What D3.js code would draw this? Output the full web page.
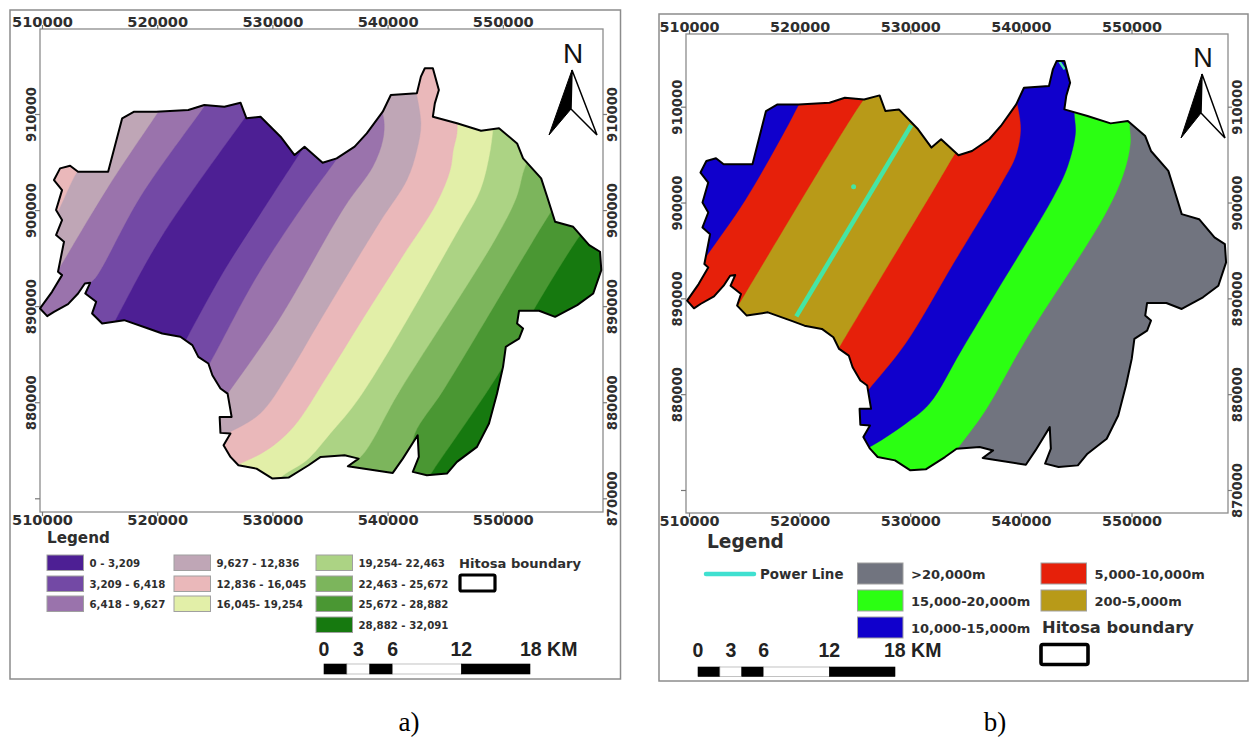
<!doctype html>
<html>
<head>
<meta charset="utf-8"/>
<title>Hitosa maps</title>
<script src="https://d3js.org/d3.v7.min.js"></script>
<style>
body { margin: 0; background: #fff; }
svg { display: block; }
</style>
</head>
<body>
<svg id="svg1" width="1250" height="738"></svg>
<script>
const boundary = [
    [509.83,889.76],[510.45,888.96],[511.04,889.41],[512.26,890.21],[513.13,891.32],[513.72,892.36],
    [514.18,892.43],[513.76,891.32],[514.70,890.45],[514.35,889.24],[515.22,888.20],[517.13,888.54],
    [519.22,887.68],[520.44,887.15],[522.01,886.81],[523.05,885.94],[523.57,884.72],[524.44,884.03],
    [524.79,882.81],[525.49,881.43],[526.11,880.90],[526.46,878.47],[525.42,878.47],[525.49,876.81],
    [526.36,876.74],[525.76,875.52],[526.36,874.31],[527.05,873.44],[528.62,873.09],[530.01,872.05],
    [531.40,872.16],[533.14,873.44],[534.19,874.31],[536.27,874.48],[537.49,874.13],[536.55,873.34],
    [540.45,872.64],[541.32,874.13],[542.61,876.56],[542.71,874.31],[542.19,872.75],[543.41,872.40],
    [545.15,872.57],[546.02,873.79],[547.76,875.35],[548.80,877.78],[549.50,880.90],[550.02,883.68],
    [550.26,885.77],[551.41,886.63],[551.76,887.68],[551.24,888.20],[551.41,889.52],[553.15,889.52],
    [554.54,888.89],[556.46,890.11],[557.85,891.32],[558.55,893.75],[558.44,895.66],[557.50,896.36],
    [556.11,898.26],[554.54,898.79],[553.85,901.39],[553.33,903.30],[551.76,905.38],[551.24,906.94],
    [549.67,908.51],[548.11,908.26],[546.02,909.03],[543.93,909.72],[544.10,911.11],[544.45,912.50],
    [543.93,914.76],[543.23,914.76],[542.89,913.89],[542.54,912.15],[540.28,911.98],[539.58,910.24],
    [538.19,907.99],[537.14,906.60],[535.58,905.38],[534.36,904.93],[532.79,906.60],[531.92,905.73],
    [530.71,907.64],[528.97,909.72],[527.75,909.55],[527.23,911.18],[525.83,910.76],[524.09,910.94],
    [522.70,910.42],[519.92,910.24],[518.00,910.24],[516.96,909.55],[515.74,903.99],[513.13,903.99],
    [512.44,904.62],[511.57,904.34],[511.04,903.13],[511.74,902.08],[511.22,900.00],[511.74,898.96],
    [511.22,897.40],[511.91,896.70],[511.39,893.58],[511.74,893.23],[510.87,891.49]
];

// class limits between the stripes, west to east (panel a)
const breaksA = [
    [[513.83,905.21],[512.96,903.82],[511.50,900.17],[510.52,897.92]],
    [[520.96,911.81],[520.09,910.24],[515.74,902.43],[511.39,893.75],[510.52,892.02]],
    [[524.79,912.15],[524.09,910.83],[518.53,901.39],[514.70,893.06],[514.07,892.29],[513.45,891.32],[513.45,887.15]],
    [[528.62,911.28],[527.57,909.55],[520.27,897.05],[516.44,888.72],[515.57,886.81]],
    [[533.14,907.29],[532.27,905.73],[528.97,899.65],[525.83,893.75],[522.70,886.98],[522.01,885.42]],
    [[536.27,906.60],[535.51,905.21],[532.79,900.70],[528.62,893.06],[524.62,884.20],[523.92,882.81]],
    [[539.23,911.46],[539.68,909.38],[539.58,907.29],[538.71,904.51],[536.27,900.35],[530.53,888.54],[526.32,881.25],[525.14,879.34]],
    [[542.36,912.85],[542.89,909.03],[542.54,906.25],[541.67,903.13],[539.34,898.79],[534.15,888.54],[531.23,882.64],[528.93,878.82],[526.04,876.74],[524.79,876.04]],
    [[546.02,910.07],[546.02,907.99],[545.70,906.25],[545.43,904.17],[544.24,900.70],[541.08,894.79],[537.77,888.54],[534.71,882.64],[531.82,877.43],[529.49,875.00],[526.88,873.44],[525.49,872.75]],
    [[549.22,909.38],[548.91,906.25],[548.04,902.08],[546.30,898.26],[537.60,880.56],[535.02,876.74],[532.97,873.96],[530.95,872.40],[530.01,871.18]],
    [[552.98,906.60],[551.93,904.51],[551.20,901.39],[549.46,897.22],[541.08,881.25],[537.49,874.13],[535.93,873.44],[535.93,870.84]],
    [[554.72,900.70],[553.81,899.13],[551.79,895.14],[544.83,881.25],[542.36,876.74],[542.02,874.31],[541.67,871.18]],
    [[557.50,898.61],[556.42,896.88],[552.66,889.58],[549.64,882.99],[543.96,872.92],[543.23,871.53]]
];

// class limits between the stripes, west to east (panel b)
const breaksB = [
    [[520.50,911.39],[519.85,910.07],[518.87,907.91],[515.07,900.24],[511.63,894.50],[510.54,892.68]],
    [[526.47,911.92],[525.64,910.52],[524.84,909.13],[521.58,903.03],[515.07,890.49],[513.98,888.40]],
    [[534.62,906.17],[533.89,904.84],[532.08,901.29],[528.10,893.63],[523.76,885.26],[523.03,883.87]],
    [[539.50,911.05],[539.68,910.17],[539.97,907.56],[539.50,904.77],[538.24,901.99],[533.89,893.63],[529.55,885.26],[526.29,880.56],[525.57,879.51]],
    [[544.82,910.35],[544.82,909.30],[544.93,907.21],[544.21,903.73],[542.94,900.59],[537.87,890.84],[534.62,884.57],[531.72,878.99],[529.55,876.90],[526.29,874.46],[525.20,873.94]],
    [[549.82,909.13],[549.82,908.08],[549.89,906.17],[549.28,903.03],[547.65,898.85],[540.41,885.61],[536.79,878.30],[534.25,874.29],[533.17,872.55]]
];

const powerLine = [[530.09,908.08],[519.70,888.12]];
const powerLineEnd = [[543.49,914.70],[543.96,913.90]];
const powerPoint = [524.88,901.64];

const eastTicks = [510000, 520000, 530000, 540000, 550000];
const northTicks = [910000, 900000, 890000, 880000, 870000];
const scaleKm = [0, 2, 4, 6, 12, 18];
const scaleLabels = [0, 3, 6, 12];

const labelsA = ['0 - 3,209', '3,209 - 6,418', '6,418 - 9,627', '9,627 - 12,836', '12,836 - 16,045',
    '16,045- 19,254', '19,254- 22,463', '22,463 - 25,672', '25,672 - 28,882', '28,882 - 32,091'];
const coloursA = ['#4d1f94', '#7349a5', '#9a73ac', '#bfa6b6', '#eab8ba',
    '#e2efa8', '#acd384', '#7cb55c', '#4a9733', '#16790f'];
const stripesA = [4, 3, 2, 1, 0, 1, 2, 3, 4, 5, 6, 7, 8, 9];   // class of each stripe, west to east

const labelsB = ['>20,000m', '15,000-20,000m', '10,000-15,000m', '5,000-10,000m', '200-5,000m'];
const coloursB = ['#71747f', '#2bff12', '#1000cc', '#e6200a', '#b89a18'];
const stripesB = [2, 3, 4, 3, 2, 1, 0];

const tick_font = 'DejaVu Sans';
const text_color = '#2e2e2e';
const svg = d3.select('#svg1');

// fills one stripe colour per break: everything west of the break, painted east to west
function drawStripes(g, x, y, breaks, stripes, colours, clipId) {
    const line = d3.line().x(d => x(d[0] * 1000)).y(d => y(d[1] * 1000)).curve(d3.curveCatmullRom);
    const outline = d3.line().x(d => x(d[0] * 1000)).y(d => y(d[1] * 1000)).curve(d3.curveLinearClosed);

    g.append('clipPath').attr('id', clipId).append('path').attr('d', outline(boundary));
    const clipped = g.append('g').attr('clip-path', 'url(#' + clipId + ')');

    clipped.append('path').attr('d', outline(boundary))
        .style('fill', colours[stripes[stripes.length - 1]]);

    for (let i = breaks.length - 1; i >= 0; i--) {
        const b = breaks[i];
        const topX = x(b[0][0] * 1000);
        const d = line(b)
            + 'L' + x(500000) + ',' + y(860000)
            + 'L' + x(500000) + ',' + y(925000)
            + 'L' + topX + ',' + y(925000) + 'Z';
        clipped.append('path').attr('d', d)
            .style('fill', colours[stripes[i]])
            .style('stroke', colours[stripes[i]])
            .style('stroke-width', 0.4);
    }
    return {clipped: clipped, outline: outline};
}

function drawAxes(g, x, y, f) {
    const styleAxis = a => {
        a.select('.domain').remove();
        a.selectAll('line').style('stroke', '#777').style('stroke-width', 1.2);
        a.selectAll('text').style('font-family', tick_font).style('font-weight', 'bold').style('fill', text_color);
    };
    const fmt = d3.format('d');

    g.append('g').attr('transform', 'translate(0,' + f.top + ')')
        .call(d3.axisTop(x).tickValues(eastTicks).tickFormat(fmt).tickSize(4).tickPadding(-2))
        .call(styleAxis).selectAll('text').style('font-size', f.font + 'px');
    g.append('g').attr('transform', 'translate(0,' + f.bottom + ')')
        .call(d3.axisBottom(x).tickValues(eastTicks).tickFormat(fmt).tickSize(4).tickPadding(-1))
        .call(styleAxis).selectAll('text').style('font-size', f.font + 'px');

    // the left side has no label on its last tick
    g.append('g').attr('transform', 'translate(' + f.left + ',0)')
        .call(d3.axisLeft(y).tickValues(northTicks).tickFormat(d => d == 870000 ? '' : fmt(d)).tickSize(5))
        .call(styleAxis).selectAll('text')
        .attr('transform', 'rotate(-90)').attr('x', 0).attr('y', -4).attr('dy', 0)
        .style('text-anchor', 'middle').style('font-size', '13.2px');
    g.append('g').attr('transform', 'translate(' + f.right + ',0)')
        .call(d3.axisRight(y).tickValues(northTicks).tickFormat(fmt).tickSize(4))
        .call(styleAxis).selectAll('text')
        .attr('transform', 'rotate(-90)').attr('x', 0).attr('y', 14).attr('dy', 0)
        .style('text-anchor', 'middle').style('font-size', '13.2px');
}

function drawFrame(g, f) {
    g.append('rect').attr('x', f.outerX).attr('y', f.outerY)
        .attr('width', f.outerW).attr('height', f.outerH)
        .style('fill', 'none').style('stroke', '#8c8c8c').style('stroke-width', 1.5);
    g.append('rect').attr('x', f.left).attr('y', f.top)
        .attr('width', f.right - f.left).attr('height', f.bottom - f.top)
        .style('fill', 'none').style('stroke', '#8c8c8c').style('stroke-width', 1.3);
}

function drawNorth(g, cx, nBase, nSize, tip, notch, low, half) {
    g.append('text').attr('x', cx).attr('y', nBase).text('N')
        .style('font-family', 'Liberation Sans').style('font-size', nSize + 'px')
        .style('text-anchor', 'middle').style('fill', '#111');
    g.append('path')
        .attr('d', 'M' + (cx - 1) + ',' + tip + 'L' + (cx - half) + ',' + low + 'L' + (cx - 2) + ',' + notch + 'Z')
        .style('fill', '#000').style('stroke', '#000').style('stroke-width', 1);
    g.append('path')
        .attr('d', 'M' + (cx - 1) + ',' + tip + 'L' + (cx + half) + ',' + low + 'L' + (cx - 2) + ',' + notch + 'Z')
        .style('fill', '#fff').style('stroke', '#000').style('stroke-width', 1.5);
}

function drawScaleBar(g, x0, x1, barY, barH, textY, km18X) {
    const km = d3.scaleLinear().domain([0, 18]).range([x0, x1]);
    d3.pairs(scaleKm).forEach((p, i) => {
        g.append('rect').attr('x', km(p[0])).attr('y', barY)
            .attr('width', km(p[1]) - km(p[0])).attr('height', barH)
            .style('fill', i % 2 ? '#fff' : '#000')
            .style('stroke', i % 2 ? '#999' : '#000').style('stroke-width', 0.6);
    });
    const tx = (t, px, anchor) => g.append('text').attr('x', px).attr('y', textY).text(t)
        .style('font-family', 'Liberation Sans').style('font-weight', 'bold').style('font-size', '19.5px')
        .style('text-anchor', anchor).style('fill', '#222');
    scaleLabels.forEach(d => tx(d, km(d), 'middle'));
    tx('18 KM', km18X, 'start');
}

function legendText(g, t, px, py, size) {
    g.append('text').attr('x', px).attr('y', py).text(t)
        .style('font-family', tick_font).style('font-weight', 'bold')
        .style('font-size', size + 'px').style('fill', text_color);
}

function swatch(g, px, py, w, h, colour) {
    g.append('rect').attr('x', px).attr('y', py).attr('width', w).attr('height', h)
        .style('fill', colour).style('stroke', '#a0a0a0').style('stroke-width', 1);
}

// panel a
const frameA = {outerX: 10, outerY: 10, outerW: 610.5, outerH: 669, left: 40, right: 603, top: 29, bottom: 512, font: 14.6};
const xA = d3.scaleLinear().domain([510000, 550000]).range([42, 502.8]);
const yA = d3.scaleLinear().domain([910000, 870000]).range([114, 498.3]);
const gA = svg.append('g');
drawFrame(gA, frameA);
const mapA = drawStripes(gA, xA, yA, breaksA, stripesA, coloursA, 'clipA');
gA.append('path').attr('d', mapA.outline(boundary))
    .style('fill', 'none').style('stroke', '#000').style('stroke-width', 2).style('stroke-linejoin', 'round');
drawAxes(gA, xA, yA, frameA);
drawNorth(gA, 573, 63, 28, 70, 109, 135, 24);

legendText(gA, 'Legend', 47, 543, 15.2);
const colXA = [47, 174, 316];
const rowYA = [555, 576, 596, 617];
labelsA.forEach((t, i) => {
    const col = i < 3 ? 0 : (i < 6 ? 1 : 2);
    const row = col == 2 ? i - 6 : i % 3;
    swatch(gA, colXA[col], rowYA[row], 36.5, 15.5, coloursA[i]);
    legendText(gA, t, colXA[col] + 42.5, rowYA[row] + 12, 10.2);
});
legendText(gA, 'Hitosa boundary', 459, 568, 13.1);
gA.append('rect').attr('x', 460).attr('y', 575).attr('width', 35).attr('height', 16).attr('rx', 1.5)
    .style('fill', '#fff').style('stroke', '#000').style('stroke-width', 3.2);
drawScaleBar(gA, 324, 530, 664, 10, 656, 520);

// panel b
const frameB = {outerX: 659, outerY: 14, outerW: 589, outerH: 667, left: 686, right: 1228, top: 34, bottom: 513, font: 14.4};
const xB = d3.scaleLinear().domain([510000, 550000]).range([689, 1131.5]);
const yB = d3.scaleLinear().domain([910000, 870000]).range([106.7, 490]);
const gB = svg.append('g');
drawFrame(gB, frameB);
const mapB = drawStripes(gB, xB, yB, breaksB, stripesB, coloursB, 'clipB');
const powerPath = d3.line().x(d => xB(d[0] * 1000)).y(d => yB(d[1] * 1000));
mapB.clipped.append('path').attr('d', powerPath(powerLine))
    .style('fill', 'none').style('stroke', '#45e5a5').style('stroke-width', 4.5);
mapB.clipped.append('path').attr('d', powerPath(powerLineEnd))
    .style('fill', 'none').style('stroke', '#45e5a5').style('stroke-width', 2.5);
mapB.clipped.append('circle').attr('cx', xB(powerPoint[0] * 1000)).attr('cy', yB(powerPoint[1] * 1000)).attr('r', 2.5)
    .style('fill', '#45e5a5');
gB.append('path').attr('d', mapB.outline(boundary))
    .style('fill', 'none').style('stroke', '#000').style('stroke-width', 2).style('stroke-linejoin', 'round');
drawAxes(gB, xB, yB, frameB);
drawNorth(gB, 1203, 67, 27, 74, 113, 138, 22);

legendText(gB, 'Legend', 707, 548, 18.6);
gB.append('line').attr('x1', 706).attr('x2', 754).attr('y1', 574).attr('y2', 574)
    .style('stroke', '#40e0d0').style('stroke-width', 4.5).style('stroke-linecap', 'round');
legendText(gB, 'Power Line', 760, 579, 13.4);
const colXB = [857.5, 1041];
const rowYB = [563, 590, 617];
labelsB.forEach((t, i) => {
    const col = i < 3 ? 0 : 1;
    const row = i < 3 ? i : i - 3;
    swatch(gB, colXB[col], rowYB[row], 45.5, 21, coloursB[i]);
    legendText(gB, t, colXB[col] + 53.5, rowYB[row] + 16, 13);
});
legendText(gB, 'Hitosa boundary', 1042, 633, 16.3);
gB.append('rect').attr('x', 1041).attr('y', 644.5).attr('width', 47).attr('height', 20).attr('rx', 2)
    .style('fill', '#fff').style('stroke', '#000').style('stroke-width', 3.6);
drawScaleBar(gB, 698, 895, 667, 9.5, 657, 884);

// captions
svg.selectAll('text.caption').data([['a)', 409], ['b)', 995]]).join('text')
    .attr('class', 'caption')
    .attr('x', d => d[1]).attr('y', 731)
    .text(d => d[0])
    .style('font-family', 'Liberation Serif').style('font-size', '27px')
    .style('text-anchor', 'middle').style('fill', '#000');
</script>
</body>
</html>
